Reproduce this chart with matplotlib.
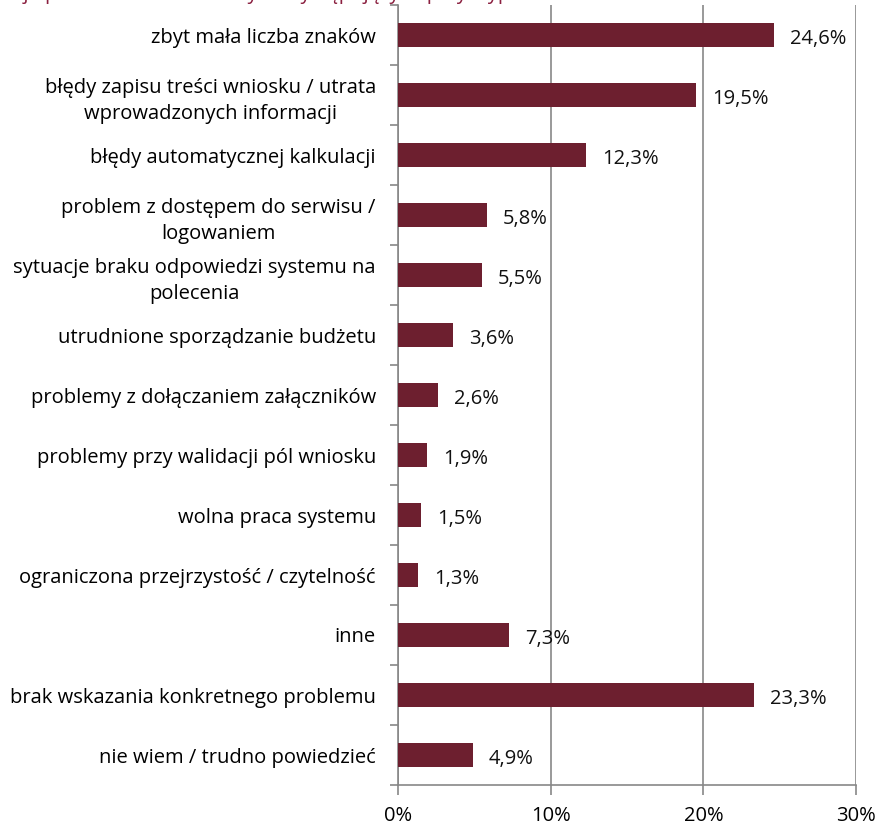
import matplotlib
matplotlib.use('Agg')
import matplotlib.pyplot as plt
from matplotlib.ticker import FuncFormatter, FixedLocator

plt.rcParams['font.family'] = ['Open Sans', 'DejaVu Sans']

categories = [
    'zbyt mała liczba znaków',
    'błędy zapisu treści wniosku / utrata\nwprowadzonych informacji',
    'błędy automatycznej kalkulacji',
    'problem z dostępem do serwisu /\nlogowaniem',
    'sytuacje braku odpowiedzi systemu na\npolecenia',
    'utrudnione sporządzanie budżetu',
    'problemy z dołączaniem załączników',
    'problemy przy walidacji pól wniosku',
    'wolna praca systemu',
    'ograniczona przejrzystość / czytelność',
    'inne',
    'brak wskazania konkretnego problemu',
    'nie wiem / trudno powiedzieć',
]
values = [24.6, 19.5, 12.3, 5.8, 5.5, 3.6, 2.6, 1.9, 1.5, 1.3, 7.3, 23.3, 4.9]
x_ticks = [0, 10, 20, 30]

BAR = '#6D1F2F'
GRID = '#878787'
TITLE = '#8B2040'
FS = 14.5

fig = plt.figure(figsize=(8.79, 8.27), dpi=100)
ax = fig.add_axes([398 / 879, 1 - 785 / 827, (856 - 398) / 879, (785 - 5) / 827])

n = len(categories)
pos = list(range(n))
ax.barh(pos, values, height=0.4, color=BAR, zorder=3)
for y, v in zip(pos, values):
    ax.text(v + 1.05, y + 0.07, f'{v:.1f}%'.replace('.', ','), va='center', ha='left',
            fontsize=FS, color='#111111')

ax.set_xlim(0, 30)
ax.set_ylim(n - 0.5, -0.5)
ax.xaxis.set_major_locator(FixedLocator(x_ticks))
ax.xaxis.set_major_formatter(FuncFormatter(lambda v, p: f'{v:.0f}%'))
ax.grid(axis='x', color=GRID, linewidth=1.2, zorder=0)

ax.set_yticks(pos)
ax.set_yticklabels(categories, fontsize=FS, multialignment='center', linespacing=1.4)
ax.yaxis.set_minor_locator(FixedLocator([p + 0.5 for p in range(-1, n)]))
ax.tick_params(axis='y', which='major', length=0, pad=16)
ax.tick_params(axis='y', which='minor', length=6, color=GRID, width=1.2)
ax.tick_params(axis='x', length=7, color=GRID, width=1.2, pad=8, labelsize=FS)

for side in ['top', 'right']:
    ax.spines[side].set_visible(False)
for side in ['left', 'bottom']:
    ax.spines[side].set_color(GRID)
    ax.spines[side].set_linewidth(1.2)

# title sits mostly above the canvas edge
fig.text(0.5, 1.0 + 1 / 827,
         'Rodzaje problemów technicznych występujących przy wypełnianiu wniosku w Generatorze Wniosków',
         ha='center', va='baseline', fontsize=FS, color=TITLE)

fig.savefig('out.png', dpi=100)
